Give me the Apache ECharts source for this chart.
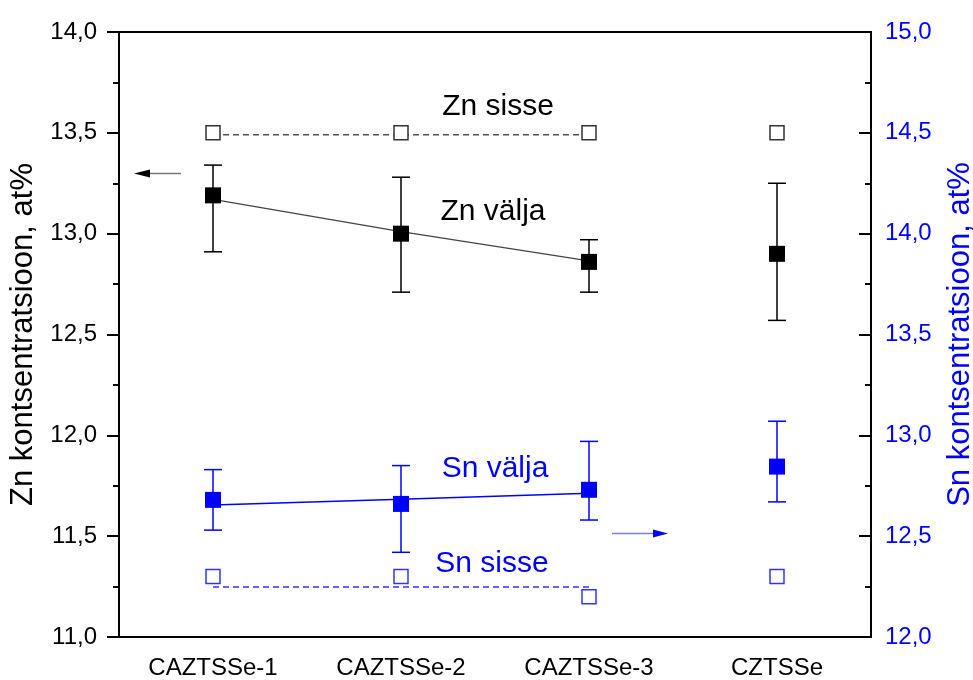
<!DOCTYPE html>
<html>
<head>
<meta charset="utf-8">
<script src="https://cdn.jsdelivr.net/npm/echarts@6/dist/echarts.min.js"></script>
<style>
html,body{margin:0;padding:0;background:#fff;}
#chart{width:973px;height:680px;}
</style>
</head>
<body>
<div id="chart"></div>
<script>
// ---- data ----
const categories = ['CAZTSSe-1', 'CAZTSSe-2', 'CAZTSSe-3', 'CZTSSe'];
const leftRange = [11, 14];
const rightRange = [12, 15];
const tickStep = 0.5;

const znIn = [13.5, 13.5, 13.5, 13.5];
const znInLine = [13.49, 13.49, 13.49, null];
const znOut = [13.19, 13.00, 12.86, 12.90];
const znOutLow = [12.91, 12.71, 12.71, 12.57];
const znOutHigh = [13.34, 13.28, 12.97, 13.25];
const znFit = [13.17, 13.01, 12.865, null];

const snIn = [12.30, 12.30, 12.20, 12.30];
const snInLine = [12.248, 12.248, 12.248, null];
const snOut = [12.68, 12.66, 12.73, 12.845];
const snOutLow = [12.53, 12.42, 12.58, 12.67];
const snOutHigh = [12.83, 12.85, 12.97, 13.07];
const snFit = [12.655, 12.683, 12.713, null];

const annotations = [
  {text: 'Zn sisse', x: 498, y: 107, color: '#000'},
  {text: 'Zn välja', x: 493, y: 212, color: '#000'},
  {text: 'Sn välja', x: 495, y: 469, color: '#0000ff'},
  {text: 'Sn sisse', x: 492, y: 564, color: '#0000ff'}
];

const FONT = '"Liberation Sans", Arial, Helvetica, sans-serif';
const BLUE = '#0000ff';

const fmt = v => v.toFixed(1).replace('.', ',');

function errData(low, high) {
  return low.map((l, i) => [i, l, high[i]]);
}
function errSeries(low, high, color, yIdx) {
  return {
    type: 'custom',
    yAxisIndex: yIdx,
    z: 3,
    silent: true,
    encode: {x: 0, y: [1, 2]},
    data: errData(low, high),
    renderItem: function (params, api) {
      const x = api.value(0);
      const p1 = api.coord([x, api.value(1)]);
      const p2 = api.coord([x, api.value(2)]);
      const hw = 9;
      const st = {stroke: color, lineWidth: 1.5};
      return {
        type: 'group',
        children: [
          {type: 'line', shape: {x1: p1[0], y1: p1[1], x2: p2[0], y2: p2[1]}, style: st},
          {type: 'line', shape: {x1: p1[0] - hw, y1: p1[1], x2: p1[0] + hw, y2: p1[1]}, style: st},
          {type: 'line', shape: {x1: p2[0] - hw, y1: p2[1], x2: p2[0] + hw, y2: p2[1]}, style: st}
        ]
      };
    }
  };
}

const chart = echarts.init(document.getElementById('chart'), null, {renderer: 'canvas'});

const option = {
  backgroundColor: '#fff',
  animation: false,
  textStyle: {fontFamily: FONT},
  grid: {left: 119, right: 102, top: 32, bottom: 43, containLabel: false, outerBoundsMode: 'none',
         show: true, borderColor: '#000', borderWidth: 2, backgroundColor: 'transparent'},
  xAxis: {
    type: 'category',
    data: categories,
    boundaryGap: true,
    axisLine: {lineStyle: {color: '#000', width: 2}},
    axisTick: {alignWithLabel: true, length: 11, lineStyle: {color: '#000', width: 2}},
    axisLabel: {color: '#000', fontSize: 24, fontFamily: FONT, margin: 19},
    splitLine: {show: false}
  },
  yAxis: [
    {
      type: 'value', position: 'left',
      min: leftRange[0], max: leftRange[1], interval: tickStep,
      name: 'Zn kontsentratsioon, at%',
      nameLocation: 'middle', nameRotate: 90, nameGap: 76,
      nameTextStyle: {color: '#000', fontSize: 31, fontFamily: FONT},
      axisLine: {show: true, lineStyle: {color: '#000', width: 2}},
      axisTick: {show: true, length: 12, lineStyle: {color: '#000', width: 2}},
      minorTick: {show: true, splitNumber: 2, length: 6, lineStyle: {color: '#000', width: 2}},
      axisLabel: {color: '#000', fontSize: 24, fontFamily: FONT, margin: 22, formatter: fmt},
      splitLine: {show: false}
    },
    {
      type: 'value', position: 'right',
      min: rightRange[0], max: rightRange[1], interval: tickStep,
      name: 'Sn kontsentratsioon, at%',
      nameLocation: 'middle', nameRotate: 90, nameGap: 74,
      nameTextStyle: {color: BLUE, fontSize: 31, fontFamily: FONT},
      axisLine: {show: true, lineStyle: {color: '#000', width: 2}},
      axisTick: {show: true, inside: true, length: 12, lineStyle: {color: '#000', width: 2}},
      minorTick: {show: true, splitNumber: 2, length: 6, lineStyle: {color: '#000', width: 2}},
      axisLabel: {color: BLUE, fontSize: 24, fontFamily: FONT, margin: 14, formatter: fmt},
      splitLine: {show: false}
    }
  ],
  series: [
    {
      name: 'Zn sisse line', type: 'line', yAxisIndex: 0, z: 1, silent: true,
      data: znInLine, showSymbol: false, symbol: 'none',
      lineStyle: {color: '#555', width: 1.5, type: [6, 4]}
    },
    {
      name: 'Sn sisse line', type: 'line', yAxisIndex: 1, z: 1, silent: true,
      data: snInLine, showSymbol: false, symbol: 'none',
      lineStyle: {color: '#3333ff', width: 1.5, type: [6, 4]}
    },
    {
      name: 'Zn fit', type: 'line', yAxisIndex: 0, z: 2, silent: true,
      data: znFit, showSymbol: false, symbol: 'none',
      lineStyle: {color: '#444', width: 1.2}
    },
    {
      name: 'Sn fit', type: 'line', yAxisIndex: 1, z: 2, silent: true,
      data: snFit, showSymbol: false, symbol: 'none',
      lineStyle: {color: BLUE, width: 1.5}
    },
    errSeries(znOutLow, znOutHigh, '#000', 0),
    errSeries(snOutLow, snOutHigh, BLUE, 1),
    {
      name: 'Zn sisse', type: 'scatter', yAxisIndex: 0, z: 5,
      data: znIn, symbol: 'rect', symbolSize: 14,
      itemStyle: {color: '#fff', borderColor: '#333', borderWidth: 1.5, opacity: 1}
    },
    {
      name: 'Sn sisse', type: 'scatter', yAxisIndex: 1, z: 5,
      data: snIn, symbol: 'rect', symbolSize: 14,
      itemStyle: {color: '#fff', borderColor: '#3333ff', borderWidth: 1.5, opacity: 1}
    },
    {
      name: 'Zn välja', type: 'scatter', yAxisIndex: 0, z: 6,
      data: znOut, symbol: 'rect', symbolSize: 16,
      itemStyle: {color: '#000', opacity: 1}
    },
    {
      name: 'Sn välja', type: 'scatter', yAxisIndex: 1, z: 6,
      data: snOut, symbol: 'rect', symbolSize: 16,
      itemStyle: {color: BLUE, opacity: 1}
    }
  ],
  graphic: annotations.map(a => ({
    type: 'text', x: a.x, y: a.y, z: 10, silent: true,
    style: {text: a.text, fill: a.color, fontSize: 30, fontFamily: FONT, align: 'center', verticalAlign: 'middle'}
  })).concat([
    // axis-pointing arrows
    {type: 'line', z: 10, silent: true, shape: {x1: 149, y1: 173.5, x2: 181, y2: 173.5}, style: {stroke: '#777', lineWidth: 1.5}},
    {type: 'polygon', z: 10, silent: true, shape: {points: [[134, 173.5], [150, 169.5], [150, 177.5]]}, style: {fill: '#000'}},
    {type: 'line', z: 10, silent: true, shape: {x1: 612, y1: 533.5, x2: 655, y2: 533.5}, style: {stroke: '#7a7aff', lineWidth: 1.5}},
    {type: 'polygon', z: 10, silent: true, shape: {points: [[668, 533.5], [653, 529.5], [653, 537.5]]}, style: {fill: BLUE}}
  ])
};

chart.setOption(option);
</script>
</body>
</html>
